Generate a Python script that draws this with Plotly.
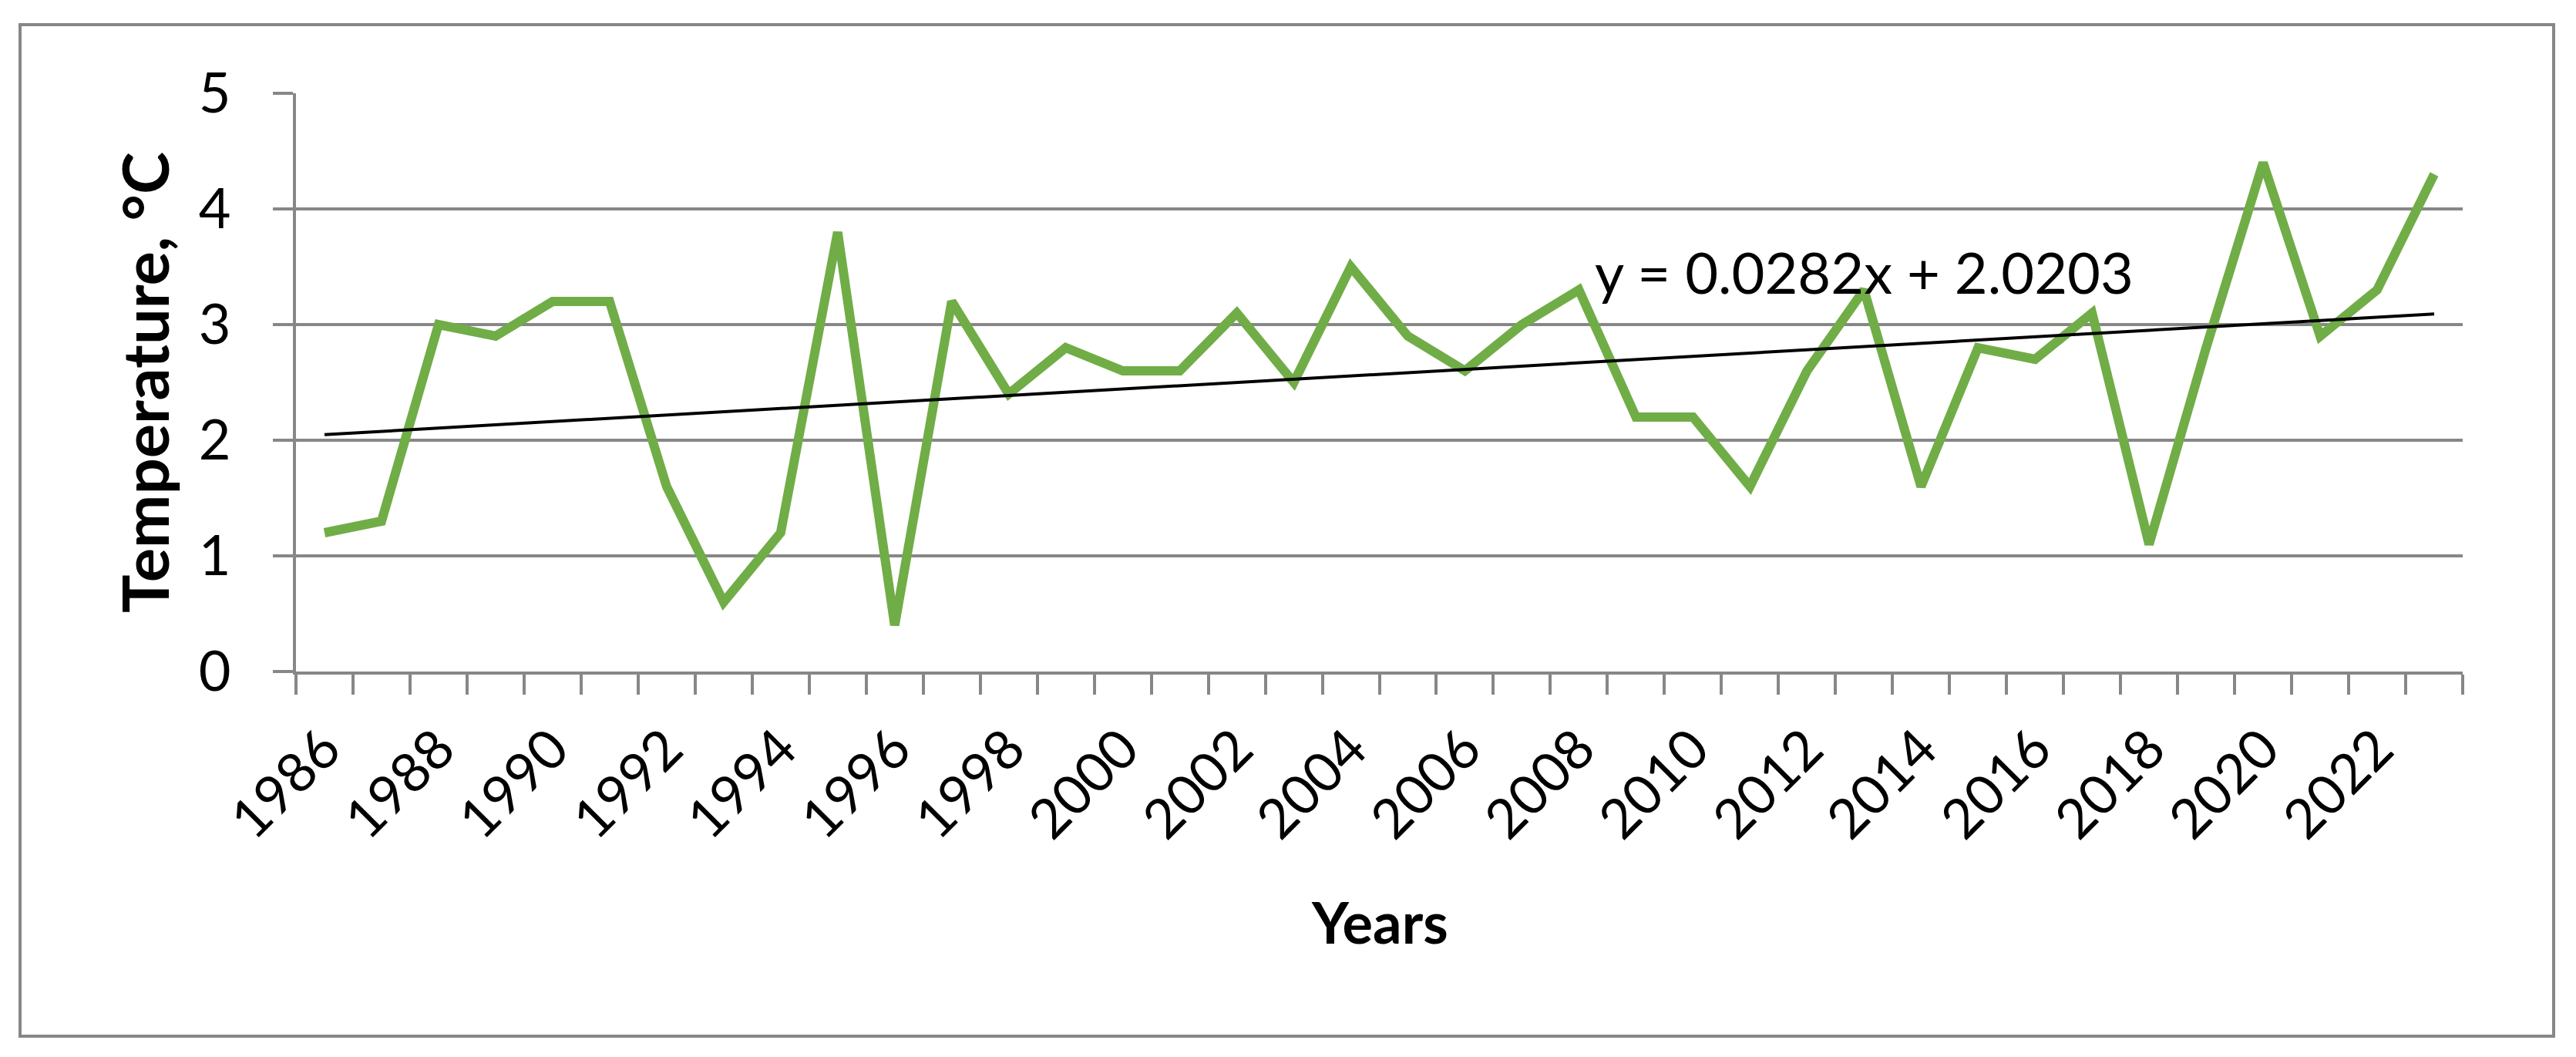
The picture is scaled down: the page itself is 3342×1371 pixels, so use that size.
import plotly.graph_objects as go

# ---------------- data ----------------
years = list(range(1986, 2024))
temperature = [1.2, 1.3, 3.0, 2.9, 3.2, 3.2, 1.6, 0.6, 1.2, 3.8,
               0.4, 3.2, 2.4, 2.8, 2.6, 2.6, 3.1, 2.5, 3.5, 2.9,
               2.6, 3.0, 3.3, 2.2, 2.2, 1.6, 2.6, 3.3, 1.6, 2.8,
               2.7, 3.1, 1.1, 2.8, 4.4, 2.9, 3.3, 4.3]
tick_labels = [str(y) for y in years[::2]]
y_ticks = [0, 1, 2, 3, 4, 5]
trend_slope = 0.0282
trend_intercept = 2.0203
equation_text = "y = 0.0282x + 2.0203"

# ---------------- layout geometry (pixels) ----------------
W, H = 3342, 1371
L, R, T, B = 384, 3195, 121, 871
pw, ph = R - L, B - T


def px(x):
    return (x - L) / pw


def py(y):
    return (B - y) / ph


GRID = "#878787"
GREEN = "#70AD47"
FONT = "Lato"

idx = list(range(1, len(years) + 1))
trend = [trend_slope * i + trend_intercept for i in idx]

fig = go.Figure()
fig.add_trace(go.Scatter(
    x=idx, y=temperature, mode="lines",
    line=dict(color=GREEN, width=12), showlegend=False, hoverinfo="skip"))
fig.add_trace(go.Scatter(
    x=idx, y=trend, mode="lines",
    line=dict(color="black", width=4), showlegend=False, hoverinfo="skip"))

fig.update_layout(
    width=W, height=H,
    margin=dict(l=L, r=W - R, t=T, b=H - B, autoexpand=False),
    paper_bgcolor="white", plot_bgcolor="white",
    font=dict(family=FONT, color="black"),
    showlegend=False,
)

fig.update_xaxes(
    range=[0.5, len(years) + 0.5],
    tickmode="array",
    tickvals=idx[::2],
    ticktext=tick_labels,
    tickangle=-45,
    ticks="outside", ticklen=26, tickwidth=4, tickcolor="rgba(0,0,0,0)",
    minor=dict(tickmode="array",
               tickvals=[i + 0.5 for i in range(0, len(years) + 1)],
               ticks="outside", ticklen=26, tickwidth=4, tickcolor=GRID,
               showgrid=False),
    showline=True, linecolor=GRID, linewidth=4,
    showgrid=False, zeroline=False,
    tickfont=dict(family=FONT, size=71, color="black"),
)

fig.update_yaxes(
    range=[0, 5],
    tickmode="array", tickvals=y_ticks,
    ticktext=[str(v) for v in y_ticks],
    showgrid=True, gridcolor=GRID, gridwidth=4,
    showline=True, linecolor=GRID, linewidth=4,
    ticks="outside", ticklen=26, tickwidth=4, tickcolor=GRID,
    zeroline=False,
    tickfont=dict(family=FONT, size=72, color="black"),
    ticklabelstandoff=40,
)

fig.add_annotation(
    x=28, y=3.46, xref="x", yref="y",
    text=equation_text, showarrow=False,
    xanchor="center", yanchor="middle",
    font=dict(family=FONT, size=74, color="black"))

fig.add_annotation(
    x=px(187), y=0.5, xref="paper", yref="paper",
    text="<b>Temperature, °C</b>", textangle=-90, showarrow=False,
    xanchor="center", yanchor="middle",
    font=dict(family=FONT, size=83, color="black"))

fig.add_annotation(
    x=0.5, y=py(1195), xref="paper", yref="paper",
    text="<b>Years</b>", showarrow=False,
    xanchor="center", yanchor="middle",
    font=dict(family=FONT, size=74, color="black"))

fig.add_shape(
    type="rect", xref="paper", yref="paper",
    x0=px(26), x1=px(3313), y0=py(1344), y1=py(32),
    line=dict(color=GRID, width=4), fillcolor="rgba(0,0,0,0)", layer="below")

fig.write_html("out.html", config={"displayModeBar": False},
               post_script="document.body.style.margin='0';")
